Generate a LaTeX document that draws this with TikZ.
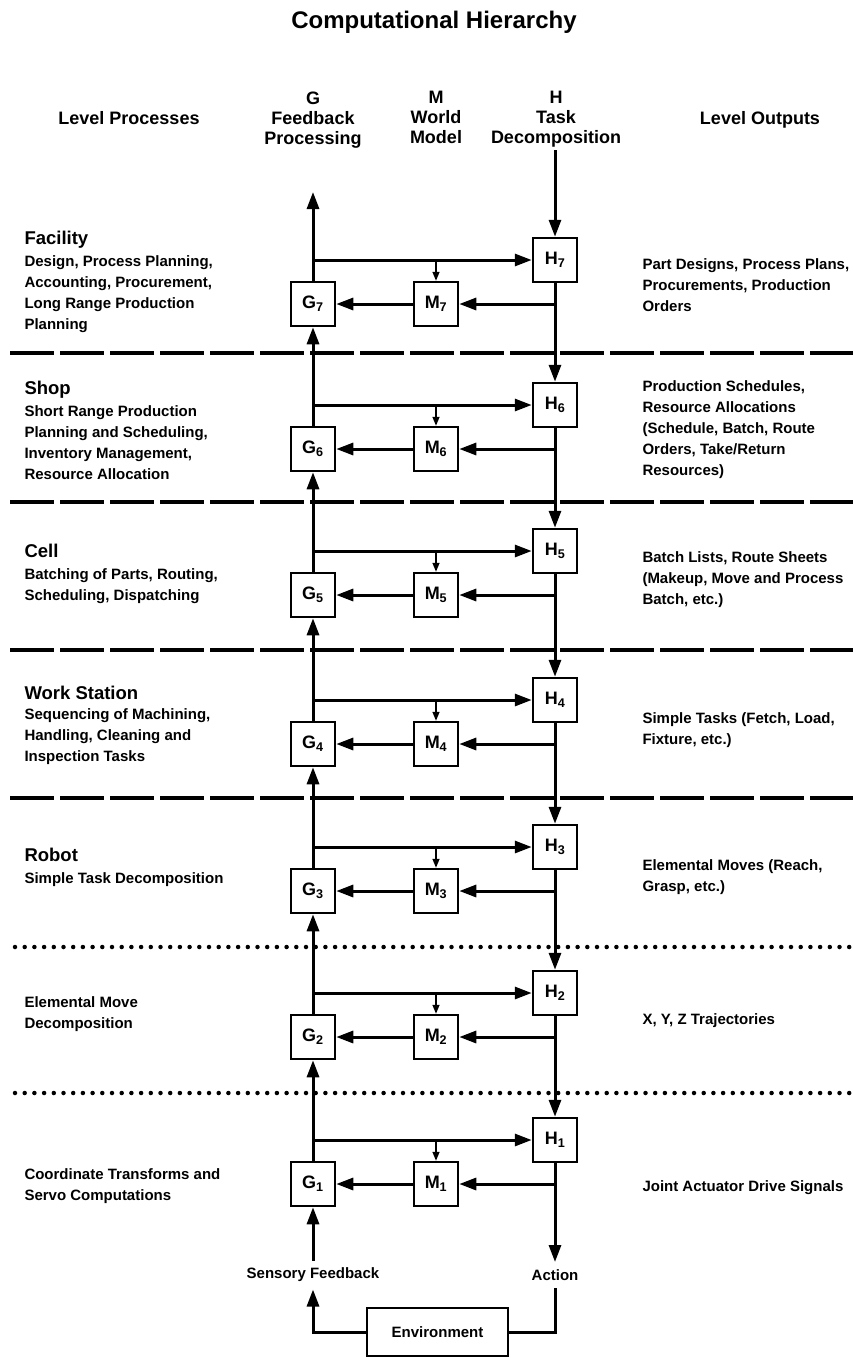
\documentclass[tikz,border=0pt]{standalone}
\usepackage{fontspec}
\setmainfont{Liberation Sans}
\usetikzlibrary{arrows.meta}

\begin{document}
\begin{tikzpicture}[x=1pt,y=-1pt,->,>={Triangle[length=17pt,width=12pt]},
      line width=3pt,
      font=\bfseries]
    \tikzstyle{unit}=[draw,line width=2.5pt,minimum size=44pt,inner sep=0pt,
      font=\fontsize{18}{20}\bfseries\selectfont]
    \tikzstyle{tap}=[line width=1.5pt,-{Triangle[length=9pt,width=7pt]}]
    \tikzstyle{colhead}=[align=center,anchor=north,inner sep=0pt,
      font=\fontsize{18}{20}\bfseries\selectfont]
    \tikzstyle{lvlname}=[anchor=north west,inner sep=0pt,
      font=\fontsize{18.5}{21}\bfseries\selectfont]
    \tikzstyle{lvltext}=[align=left,anchor=north west,inner sep=0pt,
      font=\fontsize{15}{21}\bfseries\selectfont]
    \tikzstyle{level sep}=[-,line width=3.3pt,dash pattern=on 44pt off 6pt]
    \tikzstyle{move sep}=[-,line width=4.5pt,line cap=round,dash pattern=on 0pt off 9.7pt]

    \useasboundingbox (0,0) rectangle (853,1358);

    % headings
    \node[font=\fontsize{24}{26}\bfseries\selectfont] (title) at (434,22) {Computational Hierarchy};
    \node[colhead] (lp) at (129,110) {Level Processes};
    \node[colhead] (gh) at (313,90) {G\\Feedback\\Processing};
    \node[colhead] (mh) at (436,90) {M\\World\\Model};
    \node[colhead] (hh) at (556,90) {H\\Task\\Decomposition};
    \node[colhead] (lo) at (760,110) {Level Outputs};

    % level separators
    \draw[level sep] (10,353) -- (853,353);
    \draw[level sep] (10,502) -- (853,502);
    \draw[level sep] (10,650) -- (853,650);
    \draw[level sep] (10,798) -- (853,798);
    \draw[move sep] (15,947) -- (853,947);
    \draw[move sep] (15,1093) -- (853,1093);

    % level processes
    \node[lvlname] (fac) at (23,230) {Facility};
    \node[lvltext] (facp) at (23,254) {Design, Process Planning,\\Accounting, Procurement,\\Long Range Production\\Planning};
    \node[lvlname] (shop) at (23,380) {Shop};
    \node[lvltext] (shopp) at (23,404) {Short Range Production\\Planning and Scheduling,\\Inventory Management,\\Resource Allocation};
    \node[lvlname] (cell) at (23,543) {Cell};
    \node[lvltext] (cellp) at (23,567) {Batching of Parts, Routing,\\Scheduling, Dispatching};
    \node[lvlname] (ws) at (23,685) {Work Station};
    \node[lvltext] (wsp) at (23,707) {Sequencing of Machining,\\Handling, Cleaning and\\Inspection Tasks};
    \node[lvlname] (rob) at (23,847) {Robot};
    \node[lvltext] (robp) at (23,871) {Simple Task Decomposition};
    \node[lvltext] (emp) at (23,995) {Elemental Move\\Decomposition};
    \node[lvltext] (srvp) at (23,1167) {Coordinate Transforms and\\Servo Computations};

    % level outputs
    \node[lvltext] (faco) at (641,257) {Part Designs, Process Plans,\\Procurements, Production\\Orders};
    \node[lvltext] (shopo) at (641,379) {Production Schedules,\\Resource Allocations\\(Schedule, Batch, Route\\Orders, Take/Return\\Resources)};
    \node[lvltext] (cello) at (641,550) {Batch Lists, Route Sheets\\(Makeup, Move and Process\\Batch, etc.)};
    \node[lvltext] (wso) at (641,711) {Simple Tasks (Fetch, Load,\\Fixture, etc.)};
    \node[lvltext] (robo) at (641,858) {Elemental Moves (Reach,\\Grasp, etc.)};
    \node[lvltext] (emo) at (641,1012) {X, Y, Z Trajectories};
    \node[lvltext] (srvo) at (641,1179) {Joint Actuator Drive Signals};

    % G, M, H modules
    \node[unit] (H7) at (555,260) {H\textsubscript{7}};
    \node[unit] (M7) at (436,304) {M\textsubscript{7}};
    \node[unit] (G7) at (313,304) {G\textsubscript{7}};
    \node[unit] (H6) at (555,405) {H\textsubscript{6}};
    \node[unit] (M6) at (436,449) {M\textsubscript{6}};
    \node[unit] (G6) at (313,449) {G\textsubscript{6}};
    \node[unit] (H5) at (555,551) {H\textsubscript{5}};
    \node[unit] (M5) at (436,595) {M\textsubscript{5}};
    \node[unit] (G5) at (313,595) {G\textsubscript{5}};
    \node[unit] (H4) at (555,700) {H\textsubscript{4}};
    \node[unit] (M4) at (436,744) {M\textsubscript{4}};
    \node[unit] (G4) at (313,744) {G\textsubscript{4}};
    \node[unit] (H3) at (555,847) {H\textsubscript{3}};
    \node[unit] (M3) at (436,891) {M\textsubscript{3}};
    \node[unit] (G3) at (313,891) {G\textsubscript{3}};
    \node[unit] (H2) at (555,993) {H\textsubscript{2}};
    \node[unit] (M2) at (436,1037) {M\textsubscript{2}};
    \node[unit] (G2) at (313,1037) {G\textsubscript{2}};
    \node[unit] (H1) at (555,1140) {H\textsubscript{1}};
    \node[unit] (M1) at (436,1184) {M\textsubscript{1}};
    \node[unit] (G1) at (313,1184) {G\textsubscript{1}};

    \node[inner sep=6pt,font=\fontsize{15}{17}\bfseries\selectfont] (sense) at (313,1275) {Sensory Feedback};
    \node[inner sep=6pt,font=\fontsize{15}{17}\bfseries\selectfont] (act) at (555,1275) {Action};
    \node[draw,line width=2.5pt,minimum width=141pt,minimum height=48pt,
      font=\fontsize{15}{17}\bfseries\selectfont] (env) at (437.5,1332) {Environment};
    \coordinate (htop) at (555,150);
    \coordinate (gtop) at (313,192);

    % within each level
    \path (G7 |- H7) edge (H7) (M7 |- H7) edge[tap] (M7) (H7 |- M7) edge (M7) (M7) edge (G7);
    \path (G6 |- H6) edge (H6) (M6 |- H6) edge[tap] (M6) (H6 |- M6) edge (M6) (M6) edge (G6);
    \path (G5 |- H5) edge (H5) (M5 |- H5) edge[tap] (M5) (H5 |- M5) edge (M5) (M5) edge (G5);
    \path (G4 |- H4) edge (H4) (M4 |- H4) edge[tap] (M4) (H4 |- M4) edge (M4) (M4) edge (G4);
    \path (G3 |- H3) edge (H3) (M3 |- H3) edge[tap] (M3) (H3 |- M3) edge (M3) (M3) edge (G3);
    \path (G2 |- H2) edge (H2) (M2 |- H2) edge[tap] (M2) (H2 |- M2) edge (M2) (M2) edge (G2);
    \path (G1 |- H1) edge (H1) (M1 |- H1) edge[tap] (M1) (H1 |- M1) edge (M1) (M1) edge (G1);

    % between levels
    \path (htop) edge (H7) (H7) edge (H6) (H6) edge (H5) (H5) edge (H4)
      (H4) edge (H3) (H3) edge (H2) (H2) edge (H1) (H1) edge (act);
    \path (sense) edge (G1) (G1) edge (G2) (G2) edge (G3) (G3) edge (G4)
      (G4) edge (G5) (G5) edge (G6) (G6) edge (G7) (G7) edge (gtop);
    \draw (env) -| (sense);
    \draw[-] (env) -| (act);
  \end{tikzpicture}
\end{document}
